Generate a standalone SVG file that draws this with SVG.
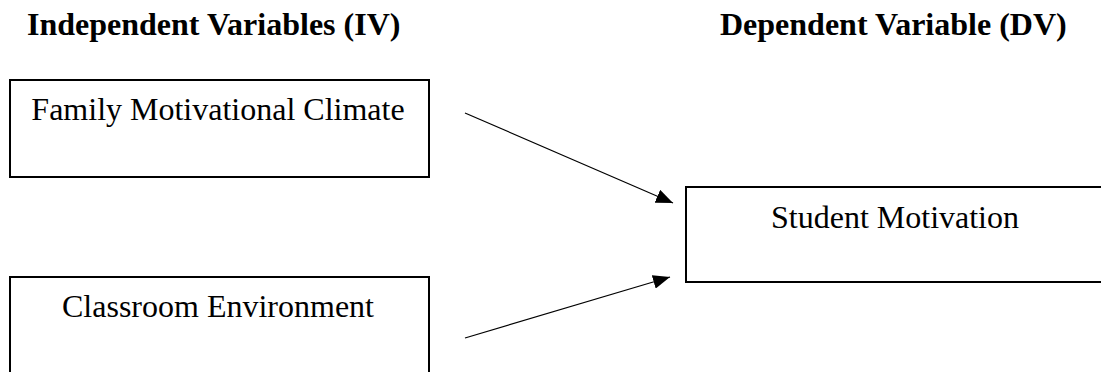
<svg xmlns="http://www.w3.org/2000/svg" width="1101" height="372" viewBox="0 0 1101 372">
<defs>
<style>
.box{fill:#fff;stroke:#000;stroke-width:2}
.lbl{font-family:"Liberation Serif","Times New Roman",serif;font-size:32px;fill:#000;text-anchor:middle}
.hdr{font-family:"Liberation Serif","Times New Roman",serif;font-size:32px;font-weight:bold;fill:#000}
.edge{stroke:#000;stroke-width:1.2;fill:none;marker-end:url(#arr)}
</style>
<marker id="arr" markerUnits="userSpaceOnUse" markerWidth="18" markerHeight="14" refX="17" refY="7" orient="auto">
<path d="M0,0 L17,7 L0,14 z" fill="#000"/>
</marker>
</defs>
<rect width="1101" height="372" fill="#fff"/>
<g id="headers">
<text class="hdr" x="27" y="35">Independent Variables (IV)</text>
<text class="hdr" x="720" y="35">Dependent Variable (DV)</text>
</g>
<g id="family">
<rect class="box" x="10" y="80" width="419" height="97"/>
<text class="lbl" x="218" y="120">Family Motivational Climate</text>
</g>
<g id="classroom">
<rect class="box" x="10" y="277" width="419" height="110"/>
<text class="lbl" x="218" y="317">Classroom Environment</text>
</g>
<g id="student">
<rect class="box" x="686" y="187" width="430" height="95"/>
<text class="lbl" x="895" y="228">Student Motivation</text>
</g>
<g id="connectors">
<line class="edge" x1="465" y1="113" x2="673" y2="203"/>
<line class="edge" x1="465" y1="338" x2="670" y2="277"/>
</g>
</svg>
